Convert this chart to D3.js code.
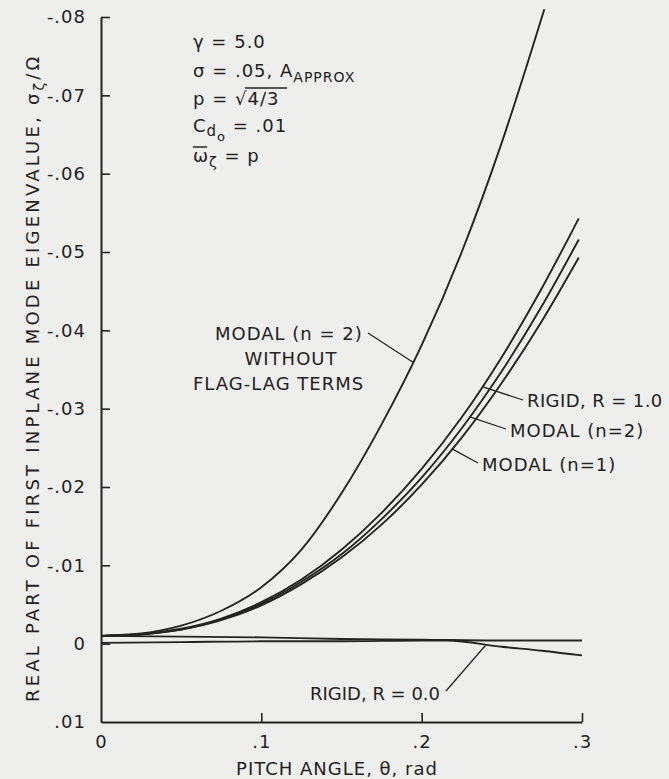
<!DOCTYPE html>
<html>
<head>
<meta charset="utf-8">
<script src="https://cdn.jsdelivr.net/npm/d3@7"></script>
<style>
  body { margin: 0; background: #eeeeec; }
  svg { display: block; }
  text { font-family: 'DejaVu Sans', sans-serif; fill: #222; }
</style>
</head>
<body>
<svg id="chart" width="669" height="779"></svg>
<script>
// Values (theta in rad, sigma/Omega)
const thetaA = [0, .025, .05, .075, .1, .125, .15, .175, .2, .225, .25, .2765];
const modalNoFlagLag = [-.0010, -.0013, -.0023, -.0042, -.0072, -.0120, -.0192, -.0280, -.0381, -.0500, -.0640, -.0810];

const thetaB = [0, .025, .05, .075, .1, .125, .15, .175, .2, .225, .25, .275, .298];
const rigidR1 = [-.0010, -.0012, -.0019, -.0032, -.0053, -.0082, -.0120, -.0167, -.0223, -.0289, -.0366, -.0454, -.0543];
const modalN2 = [-.0010, -.0012, -.0018, -.0031, -.0051, -.0079, -.0114, -.0159, -.0212, -.0275, -.0348, -.0431, -.0516];
const modalN1 = [-.0010, -.0012, -.0018, -.0030, -.0049, -.0076, -.0110, -.0152, -.0203, -.0263, -.0333, -.0412, -.0493];

const thetaLow = [0, .05, .1, .15, .2, .25, .3];
const flatLine = [-.0010, -.0009, -.0008, -.0006, -.0005, -.0004, -.0004];
const thetaR0 = [0, .05, .1, .15, .2, .216, .25, .275, .3];
const rigidR0 = [-.0001, -.0002, -.0003, -.0003, -.0004, -.0004, .0004, .0009, .0015];

const yTicks = [-.08, -.07, -.06, -.05, -.04, -.03, -.02, -.01, 0, .01];
const xTicks = [0, .1, .2, .3];

const svg = d3.select('#chart');
const ink = '#232323';

svg.append('rect').attr('width', 669).attr('height', 779).attr('fill', '#eeeeec');

const x = d3.scaleLinear().domain([0, .3]).range([101, 582]);
const y = d3.scaleLinear().domain([-.08, .01]).range([17, 722]);

// "-.08", ".01", "0" and ".1" style labels
const fmtY = v => v === 0 ? '0' : (v < 0 ? '-' : '') + d3.format('.2f')(Math.abs(v)).replace(/^0/, '');
const fmtX = v => v === 0 ? '0' : d3.format('.1f')(v).replace(/^0/, '');

// Axes (ticks point inward)
const gy = svg.append('g')
  .attr('transform', `translate(${x(0)},0)`)
  .call(d3.axisLeft(y).tickValues(yTicks).tickFormat(fmtY).tickSize(-9).tickSizeOuter(0).tickPadding(15));

const gx = svg.append('g')
  .attr('transform', `translate(0,${y(.01)})`)
  .call(d3.axisBottom(x).tickValues(xTicks).tickFormat(fmtX).tickSize(-9).tickSizeOuter(0).tickPadding(13));

for (const g of [gy, gx]) {
  g.select('.domain').attr('stroke', ink).attr('stroke-width', 2);
  g.selectAll('.tick line').attr('stroke', ink).attr('stroke-width', 1.6);
  g.selectAll('.tick text')
    .attr('font-size', 18)
    .attr('fill', '#222')
    .style('font-family', "'DejaVu Sans', sans-serif")
    .attr('letter-spacing', 1);
}
gx.selectAll('.tick').filter(d => d === 0).select('line').remove();
gy.selectAll('.tick').filter(d => d === .01).select('line').remove();

// Curves
const line = d3.line().x(d => x(d[0])).y(d => y(d[1])).curve(d3.curveMonotoneX);
const series = [
  [thetaA, modalNoFlagLag],
  [thetaB, rigidR1],
  [thetaB, modalN2],
  [thetaB, modalN1],
  [thetaLow, flatLine],
  [thetaR0, rigidR0],
];
for (const [ts, vs] of series) {
  svg.append('path')
    .datum(ts.map((t, i) => [t, vs[i]]))
    .attr('d', line)
    .attr('fill', 'none')
    .attr('stroke', ink)
    .attr('stroke-width', 1.9);
}

// point on a series at a given theta (for leader lines)
function at(ts, vs, t) {
  const i = Math.max(1, d3.bisectLeft(ts, t));
  const f = (t - ts[i - 1]) / (ts[i] - ts[i - 1]);
  return [x(t), y(vs[i - 1] + f * (vs[i] - vs[i - 1]))];
}

function label(txt, tx, ty, anchor) {
  return svg.append('text')
    .attr('x', tx).attr('y', ty)
    .attr('font-size', 18)
    .attr('letter-spacing', 1)
    .attr('text-anchor', anchor || 'start')
    .text(txt);
}

function leader(x1, y1, p) {
  svg.append('line')
    .attr('x1', x1).attr('y1', y1)
    .attr('x2', p[0]).attr('y2', p[1])
    .attr('stroke', ink).attr('stroke-width', 1.3);
}

label('MODAL (n = 2)', 215, 340);
label('WITHOUT', 291, 365, 'middle');
label('FLAG-LAG TERMS', 193, 390);
leader(368, 333, at(thetaA, modalNoFlagLag, .1946));

label('RIGID, R = 1.0', 527, 407).attr('letter-spacing', 0.4);
leader(523, 400, at(thetaB, rigidR1, .2377));
label('MODAL (n=2)', 510, 437);
leader(506, 429, at(thetaB, modalN2, .230));
label('MODAL (n=1)', 482, 471);
leader(478, 463, at(thetaB, modalN1, .219));

label('RIGID, R = 0.0', 310, 700).attr('letter-spacing', 0);
leader(446, 691, at(thetaR0, rigidR0, .24));

// Parameter block
const px = 193;
label('γ = 5.0', px, 48);

const s = label('σ = .05, A', px, 77);
s.append('tspan').attr('font-size', 14).attr('dy', 5).text('APPROX');

const p = label('p = ', px, 105);
p.append('tspan').text('√4/3');
svg.append('line')
  .attr('x1', px + 52).attr('x2', px + 94)
  .attr('y1', 88).attr('y2', 88)
  .attr('stroke', ink).attr('stroke-width', 1.5);

const c = label('C', px, 132);
c.append('tspan').attr('font-size', 15).attr('dy', 4).text('d');
c.append('tspan').attr('font-size', 13).attr('dy', 5).text('o');
c.append('tspan').attr('dy', -9).text(' = .01');

const w = label('ω', px, 162);
w.append('tspan').attr('font-size', 14).attr('dy', 5).text('ζ');
w.append('tspan').attr('dy', -5).text(' = p');
svg.append('line')
  .attr('x1', px).attr('x2', px + 14)
  .attr('y1', 147).attr('y2', 147)
  .attr('stroke', ink).attr('stroke-width', 1.5);

// Axis titles
label('PITCH ANGLE, θ, rad', 337, 775, 'middle');

const yt = svg.append('text')
  .attr('transform', 'translate(39,702) rotate(-90)')
  .attr('text-anchor', 'start')
  .attr('font-size', 18)
  .attr('letter-spacing', 3.2)
  .text('REAL PART OF FIRST INPLANE MODE EIGENVALUE, σ');
yt.append('tspan').attr('font-size', 14).attr('dy', 5).text('ζ');
yt.append('tspan').attr('dy', -5).text('/Ω');
</script>
</body>
</html>
